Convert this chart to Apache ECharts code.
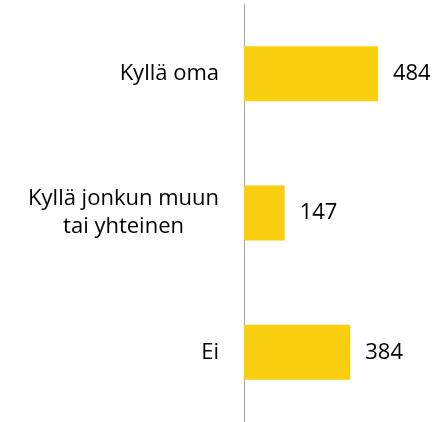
<!DOCTYPE html>
<html>
<head>
<meta charset="utf-8">
<script src="https://cdn.jsdelivr.net/npm/echarts@6/dist/echarts.min.js"></script>
<style>
  html, body { margin: 0; padding: 0; background: #fff; }
  #main { width: 438px; height: 422px; }
</style>
</head>
<body>
<div id="main"></div>
<script>
  // vastaukset
  var categories = ['Kyllä oma', 'Kyllä jonkun muun\ntai yhteinen', 'Ei'];
  var values = [484, 147, 384];

  var myChart = echarts.init(document.getElementById('main'));
  var option = {
    animation: false,
    grid: { left: 244, right: 28, top: 4, bottom: 0 },
    xAxis: {
      type: 'value',
      min: 0,
      max: 600,
      show: false
    },
    yAxis: {
      type: 'category',
      inverse: true,
      data: categories,
      axisLine: { lineStyle: { color: '#a6a6a6', width: 1 } },
      axisTick: { show: false },
      axisLabel: {
        margin: 25,
        formatter: function (v) { return '{c|' + v + '}'; },
        rich: {
          c: {
            align: 'center',
            fontFamily: 'Open Sans',
            fontSize: 22,
            lineHeight: 28,
            color: '#000'
          }
        }
      }
    },
    series: [{
      type: 'bar',
      data: values,
      barWidth: 55,
      itemStyle: { color: '#f8ce0f' },
      label: {
        show: true,
        position: 'right',
        distance: 15,
        fontFamily: 'Open Sans',
        fontSize: 22,
        color: '#000'
      }
    }]
  };
  myChart.setOption(option);
</script>
</body>
</html>
